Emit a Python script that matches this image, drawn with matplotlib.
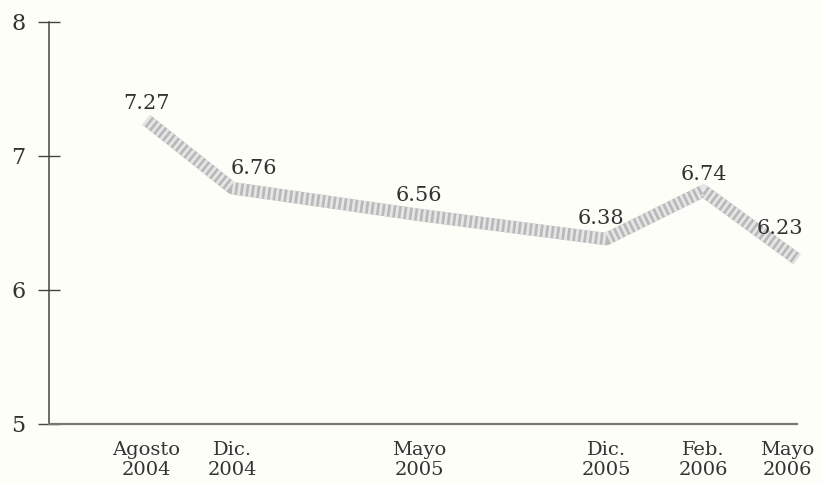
import matplotlib
matplotlib.use("Agg")
import matplotlib.pyplot as plt

# datos
periodos = ["Agosto\n2004", "Dic.\n2004", "Mayo\n2005", "Dic.\n2005", "Feb.\n2006", "Mayo\n2006"]
x_pos = [1.3, 2.45, 4.95, 7.45, 8.75, 10.0]     # separacion desigual como en el original
valores = [7.27, 6.76, 6.56, 6.38, 6.74, 6.23]
y_ticks = [5, 6, 7, 8]

# desplazamiento de cada etiqueta (pixeles)
offsets = [(0, 16), (22, 20), (0, 19), (-5, 21), (0, 16), (-17, 31)]

plt.rcParams["font.family"] = ["DejaVu Serif"]
fondo = "#fefef8"
tinta = "#333333"

fig = plt.figure(figsize=(8.22, 4.84), dpi=100, facecolor=fondo)
ax = fig.add_axes([49 / 822, 60 / 484, 748 / 822, 402 / 484])
ax.set_facecolor(fondo)

# linea gruesa gris con textura
ax.plot(x_pos, valores, color="#b9b9b9", lw=9, solid_joinstyle="round",
        solid_capstyle="butt", clip_on=False, zorder=3)
ax.plot(x_pos, valores, color="#e6e6e6", lw=9, dashes=(0.22, 0.22),
        dash_joinstyle="round", dash_capstyle="butt", clip_on=False, zorder=4)

for x, v, (dx, dy) in zip(x_pos, valores, offsets):
    ax.annotate("%.2f" % v, (x, v), xytext=(dx, dy), textcoords="offset pixels",
                ha="center", va="center", fontsize=15, color=tinta, zorder=5)

ax.set_xlim(0, 10)
ax.set_ylim(5, 8)
ax.set_yticks(y_ticks)
# la ultima etiqueta va un poco a la izquierda para que no se corte
tick_x = x_pos[:-1] + [x_pos[-1] - 0.13]
ax.set_xticks(tick_x)
ax.set_xticklabels(periodos)

for s in ("top", "right"):
    ax.spines[s].set_visible(False)
ax.spines["left"].set_color("#444444")
ax.spines["left"].set_linewidth(1.1)
ax.spines["bottom"].set_color("#777777")
ax.spines["bottom"].set_linewidth(1.6)

ax.tick_params(axis="y", direction="inout", length=16, width=1.0, color="#444444",
               pad=9, labelsize=16, labelcolor=tinta)
ax.tick_params(axis="x", length=0, pad=12, labelsize=14, labelcolor=tinta)

fig.savefig("out.png", dpi=100, facecolor=fondo)
